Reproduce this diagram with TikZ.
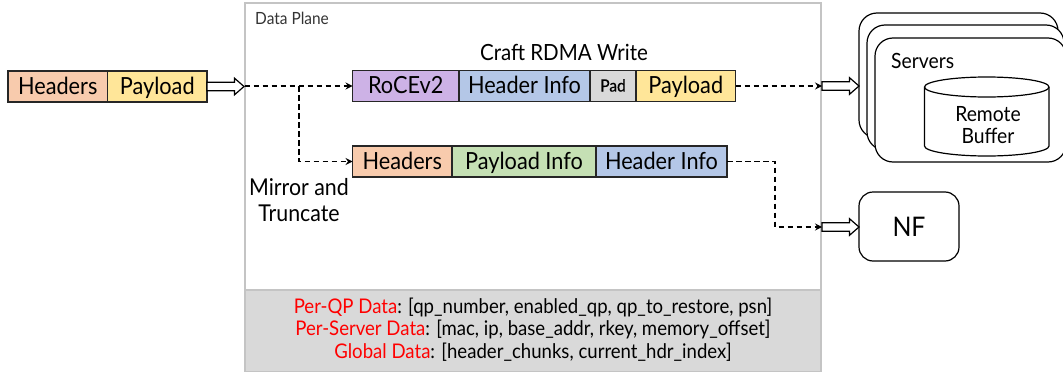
\documentclass[tikz,border=0pt]{standalone}
\usepackage{fontspec}
\setmainfont{Lato}[FakeStretch=0.92]
\usetikzlibrary{arrows.meta}
\definecolor{cHead}{HTML}{F8CBAD}
\definecolor{cPay}{HTML}{FFE699}
\definecolor{cRoce}{HTML}{CDB2E6}
\definecolor{cInfo}{HTML}{B4C7E7}
\definecolor{cPad}{HTML}{D9D9D9}
\definecolor{cPinfo}{HTML}{C5E0B4}
\definecolor{cFrame}{HTML}{C4C4C4}
\definecolor{cCell}{HTML}{262626}
\newcommand{\fs}[1]{\fontsize{#1}{#1}\selectfont}
\tikzset{
  cell/.style={draw=cCell,line width=1.3pt,anchor=north west,inner sep=0pt,outer sep=0pt,minimum height=31pt,
     text height=18.5pt,text depth=3.5pt,font=\fs{23.6}},
  frame/.style={draw=cFrame,line width=1.5pt,anchor=north west,inner sep=0pt,outer sep=0pt},
  label/.style={inner sep=0pt,align=center,text=black},
  rbox/.style={draw=black,line width=1.2pt,fill=white,rounded corners=18pt,anchor=north west,inner sep=0pt,outer sep=0pt},
  blockarrow/.style={draw=black,fill=white,line width=1.2pt,line join=miter},
  cylside/.style={draw=black,line width=1.2pt,fill=white},
  flow/.style={draw=black,line width=1.3pt,dash pattern=on 5.5pt off 3.5pt,-{Stealth[length=7pt,width=7pt,inset=2.5pt]}},
}
\begin{document}
\begin{tikzpicture}[x=1pt,y=-1pt]
\useasboundingbox (0,0) rectangle (1063,372);
% data plane
\node[frame,minimum width=576pt,minimum height=287pt] (plane) at (245,3) {};
\node[frame,fill=cPad,minimum width=576pt,minimum height=82pt] (store) at (245,290) {};
\node[label,anchor=west,text=black!80,font=\fs{16.8}] (dplabel) at (255,18.5) {Data Plane};
\node[label,font=\fs{20.2}] (storetext) at (533,329.5) {%
  \textcolor{red}{Per-QP Data}: [qp\_number, enabled\_qp, qp\_to\_restore, psn]\\[2.5pt]
  \textcolor{red}{Per-Server Data}: [mac, ip, base\_addr, rkey, memory\_offset]\\[2.5pt]
  \textcolor{red}{Global Data}: [header\_chunks, current\_hdr\_index]};
% input packet
\node[cell,fill=cHead,minimum width=99.5pt] (inhead) at (8,71) {Headers};
\node[cell,fill=cPay,minimum width=99.5pt] (inpay) at (inhead.north east) {Payload};
% crafted
\node[label,font=\fs{22.3}] (craft) at (564,52) {Craft RDMA Write};
\node[cell,fill=cRoce,minimum width=106.5pt] (roce) at (352.5,70.5) {RoCEv2};
\node[cell,fill=cInfo,minimum width=131pt] (info) at (roce.north east) {Header Info};
\node[cell,fill=cPad,minimum width=46pt,text height=16.5pt,text depth=5.5pt,font=\fs{16.8}\addfontfeature{FakeBold=0.4}] (pad) at (info.north east) {Pad};
\node[cell,fill=cPay,minimum width=99.5pt] (pay) at (pad.north east) {Payload};
% mirrored
\node[cell,fill=cHead,minimum width=99.5pt] (mhead) at (352.5,146) {Headers};
\node[cell,fill=cPinfo,minimum width=144pt] (minfo) at (mhead.north east) {Payload Info};
\node[cell,fill=cInfo,minimum width=131pt] (mhinfo) at (minfo.north east) {Header Info};
\node[label,font=\fs{23.2}] (mirror) at (299,200) {Mirror and\\[3pt]Truncate};
% servers
\begin{scope}
\clip (0,0) rectangle (1063,372);
\node[rbox,minimum width=199pt,minimum height=125pt] (s1) at (859,13) {};
\node[rbox,minimum width=197pt,minimum height=125pt] (s2) at (867,25) {};
\node[rbox,minimum width=191pt,minimum height=124pt] (s3) at (875,38) {};
\end{scope}
\node[label,anchor=west,font=\fs{21}] (servers) at (891,61) {Servers};
% remote buffer cylinder
\coordinate (bufTL) at (924.5,87);
\coordinate (bufTR) at (1049,87);
\coordinate (bufBR) at (1049,146);
\coordinate (bufBL) at (924.5,146);
\path[cylside] (bufTL) -- (bufBL) arc[start angle=180,end angle=360,x radius=62.25pt,y radius=10pt] -- (bufTR)
   arc[start angle=0,end angle=180,x radius=62.25pt,y radius=10pt] -- cycle;
\path[cylside] (bufTL) arc[start angle=180,end angle=360,x radius=62.25pt,y radius=10pt];
\node[label,font=\fs{21}] (buftext) at (988,125.5) {Remote\\[1pt]Buffer};
\node[rbox,rounded corners=14pt,minimum width=100pt,minimum height=69pt] (nf) at (859,192) {};
\node[label,font=\fs{27}] (nftext) at (909,226.5) {NF};
% block arrows
\coordinate (a1t) at (inpay.east);
\coordinate (a2t) at (822,86);
\coordinate (a3t) at (822,227);
\foreach \c in {a1t,a2t,a3t}{
  \path[blockarrow] (\c) ++(0,-4.3) -- ++(27.5,0) -- ++(0,-4) -- ++(9.5,8.3) -- ++(-9.5,8.3) -- ++(0,-4) -- ++(-27.5,0) -- cycle;
}
\coordinate (a1tip) at (244.5,86);
% dashed connectors
\draw[flow] (a1tip) -- (roce.west);
\coordinate (jn) at (299,86);
\draw[flow] (jn) -- (299,161.5) -- (mhead.west);
\draw[flow] (pay.east) -- (a2t);
\draw[flow] (mhinfo.east) -- (775,161.5) -- (775,227) -- (a3t);
\end{tikzpicture}
\end{document}
